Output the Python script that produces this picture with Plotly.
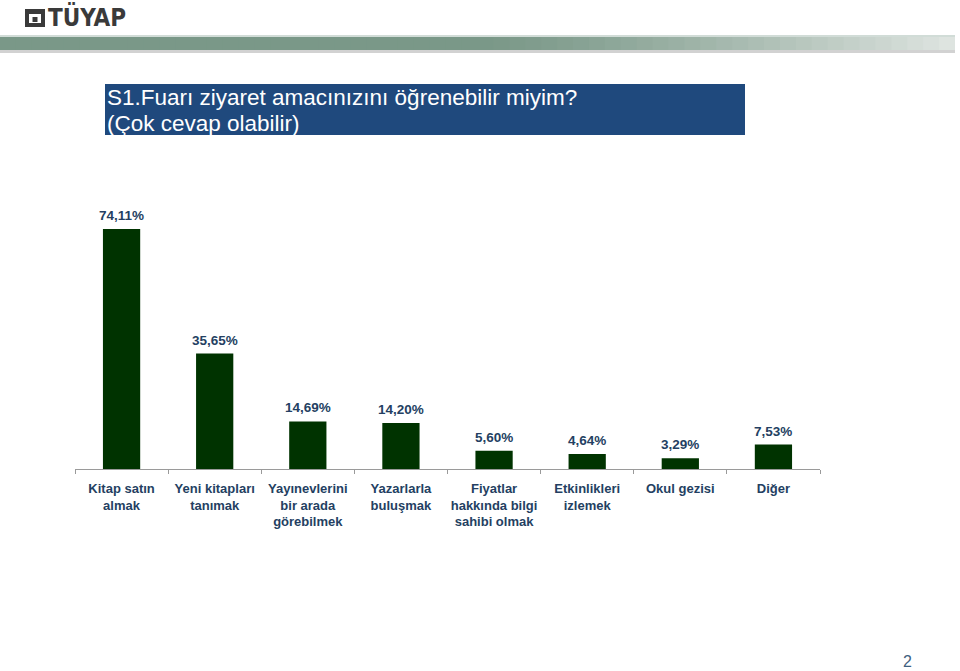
import plotly.graph_objects as go

categories = ["Kitap satın<br>almak", "Yeni kitapları<br>tanımak", "Yayınevlerini<br>bir arada<br>görebilmek",
              "Yazarlarla<br>buluşmak", "Fiyatlar<br>hakkında bilgi<br>sahibi olmak", "Etkinlikleri<br>izlemek",
              "Okul gezisi", "Diğer"]
values = [74.11, 35.65, 14.69, 14.20, 5.60, 4.64, 3.29, 7.53]
labels = ["74,11%", "35,65%", "14,69%", "14,20%", "5,60%", "4,64%", "3,29%", "7,53%"]

W, H = 960, 671
TXT = "#243F62"
FONT = "Liberation Sans, Arial, sans-serif"

def px(x):
    return x / W

def py(y):
    return 1 - y / H

fig = go.Figure()
fig.add_trace(go.Bar(x=categories, y=values, marker=dict(color="#003300", line=dict(width=0)),
                     hoverinfo="skip"))

for c, v, t in zip(categories, values, labels):
    fig.add_annotation(x=c, y=v, text=t, showarrow=False, yanchor="bottom", yshift=4,
                       font=dict(family=FONT, size=13.5, color=TXT, weight="bold"))

shapes = []
# header band gradient (approximate)
n = 60
for i in range(n):
    x0 = i * 955 / n
    x1 = (i + 1) * 955 / n
    t = i / (n - 1)
    t2 = max(0.0, (t - 0.5) / 0.5) ** 1.3
    r = int(122 + (222 - 122) * t2)
    g = int(152 + (228 - 152) * t2)
    b = int(136 + (224 - 136) * t2)
    shapes.append(dict(type="rect", xref="paper", yref="paper", x0=px(x0), x1=px(min(x1 + 2, 955)),
                       y0=py(50), y1=py(37), fillcolor=f"rgb({r},{g},{b})", line=dict(width=0), layer="below"))
shapes.append(dict(type="rect", xref="paper", yref="paper", x0=0, x1=px(955), y0=py(53), y1=py(50),
                   fillcolor="rgba(180,180,180,0.6)", line=dict(width=0), layer="below"))
shapes.append(dict(type="rect", xref="paper", yref="paper", x0=0, x1=px(955), y0=py(37), y1=py(35),
                   fillcolor="rgba(190,205,198,0.7)", line=dict(width=0), layer="below"))
# title box
shapes.append(dict(type="rect", xref="paper", yref="paper", x0=px(105), x1=px(745), y0=py(135), y1=py(84),
                   fillcolor="#1F497D", line=dict(width=0), layer="below"))
# logo house icon
shapes.append(dict(type="rect", xref="paper", yref="paper", x0=px(25), x1=px(45), y0=py(27), y1=py(9),
                   fillcolor="#3a3a3a", line=dict(width=0)))
shapes.append(dict(type="rect", xref="paper", yref="paper", x0=px(29), x1=px(41), y0=py(23), y1=py(14),
                   fillcolor="white", line=dict(width=0)))
shapes.append(dict(type="rect", xref="paper", yref="paper", x0=px(32.5), x1=px(37.5), y0=py(22), y1=py(17),
                   fillcolor="#3a3a3a", line=dict(width=0)))

fig.add_annotation(xref="paper", yref="paper", x=px(46), y=py(17), xanchor="left", yanchor="middle",
                   text="TÜYAP", showarrow=False,
                   font=dict(family="Liberation Sans Narrow, DejaVu Sans Condensed, sans-serif", size=24,
                             color="#3a3a3a", weight="bold"))
fig.add_annotation(xref="paper", yref="paper", x=px(105), y=py(98), xanchor="left", yanchor="middle",
                   text="S1.Fuarı ziyaret amacınızını öğrenebilir miyim?",
                   showarrow=False, align="left",
                   font=dict(family=FONT, size=22.5, color="white"))
fig.add_annotation(xref="paper", yref="paper", x=px(105), y=py(123), xanchor="left", yanchor="middle",
                   text="(Çok cevap olabilir)",
                   showarrow=False, align="left",
                   font=dict(family=FONT, size=22.5, color="white"))
fig.add_annotation(xref="paper", yref="paper", x=px(907), y=py(661), xanchor="center", yanchor="middle",
                   text="2", showarrow=False, font=dict(family=FONT, size=16, color="#3F5F7F"))

fig.update_layout(
    width=W, height=H, margin=dict(l=0, r=0, t=0, b=0),
    paper_bgcolor="white", plot_bgcolor="white",
    bargap=0.6, showlegend=False, shapes=shapes,
    xaxis=dict(domain=[px(75), px(820)], showline=True, linecolor="#9a9a9a", linewidth=1,
               ticks="outside", ticklen=4, tickcolor="#9a9a9a", tickson="boundaries", tickangle=0,
               ticklabelstandoff=7,
               tickfont=dict(family=FONT, size=13, color=TXT, weight="bold"), showgrid=False),
    yaxis=dict(domain=[py(469), py(210)], range=[0, 80], visible=False, showgrid=False),
)

fig.write_html("out.html")
